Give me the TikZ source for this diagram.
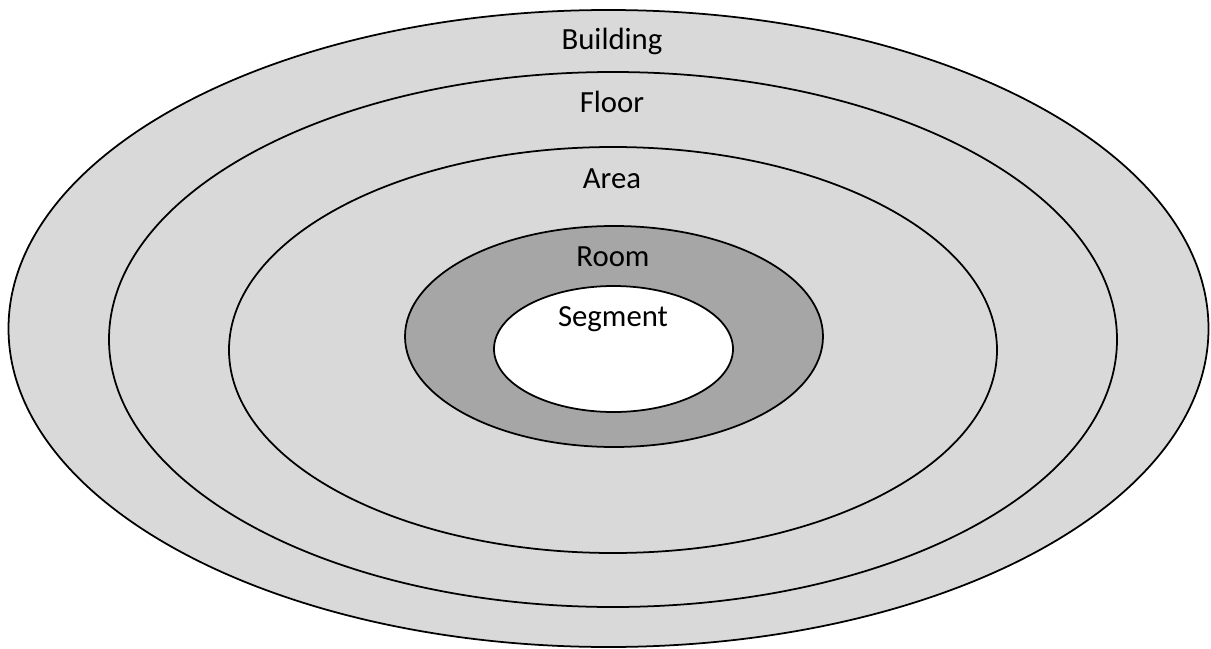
\documentclass[tikz,border=0pt]{standalone}
\usepackage{fontspec}
\setmainfont{Carlito}

\begin{document}
\begin{tikzpicture}[x=0.02cm, y=-0.02cm, line width=1pt,
  lbl/.style={anchor=base, font=\fontsize{17.5}{21}\selectfont}]
  \useasboundingbox (0,0) rectangle (1211,649);
  \filldraw[black!15, draw=black] (608.5,328.5) ellipse (600 and 318.5);
  \node[lbl] (building) at (612,50) {Building};
  \filldraw[black!15, draw=black] (613,339.5) ellipse (504 and 267.5);
  \node[lbl] (floor) at (612,112) {Floor};
  \filldraw[black!15, draw=black] (613,350) ellipse (384 and 203);
  \node[lbl] (area) at (612,188) {Area};
  \filldraw[black!35, draw=black] (614,336.5) ellipse (209 and 110.5);
  \node[lbl] (room) at (613,266) {Room};
  \filldraw[white, draw=black] (613.5,349) ellipse (119.5 and 63);
  \node[lbl] (segment) at (613,326) {Segment};
\end{tikzpicture}
\end{document}
